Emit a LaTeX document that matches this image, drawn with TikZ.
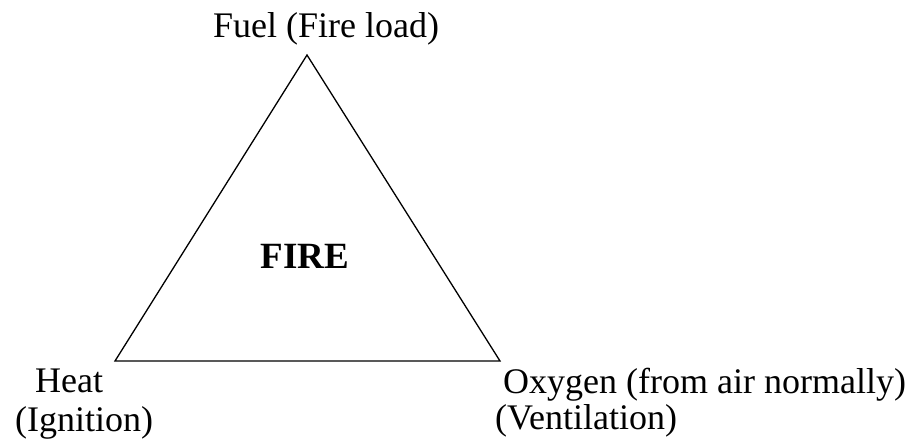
\documentclass[tikz,border=0pt]{standalone}
\usepackage{fontspec}
\setmainfont{Liberation Serif}
\begin{document}
\begin{tikzpicture}[x=1pt,y=-1pt,
  lbl/.style={inner sep=0pt,anchor=base west,font=\fontsize{36}{40}\selectfont},
  side/.style={line width=1.3pt,line join=miter}]
\useasboundingbox (0,0) rectangle (915,440);
\coordinate (top) at (307,55);
\coordinate (bl) at (115,361);
\coordinate (br) at (500,361);
\draw[side] (top) -- (bl) -- (br) -- cycle;
\node[lbl] (fuel) at (213,37) {Fuel (Fire load)};
\node[inner sep=0pt,anchor=base,font=\fontsize{37}{40}\selectfont\bfseries] (fire) at (305,268) {FIRE};
\node[lbl] (heat) at (35,392) {Heat};
\node[lbl] (ign) at (15,431) {(Ignition)};
\node[lbl] (oxy) at (503,393) {Oxygen (from air normally)};
\node[lbl] (vent) at (495,429) {(Ventilation)};
\end{tikzpicture}
\end{document}
